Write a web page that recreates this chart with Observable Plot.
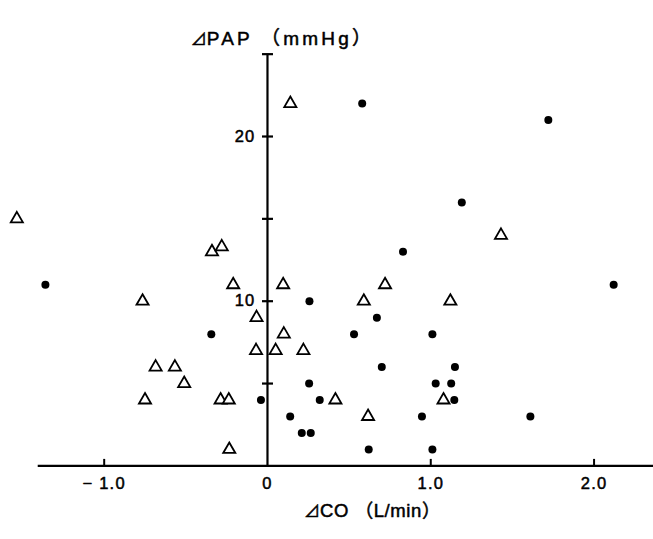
<!DOCTYPE html>
<html>
<head>
<meta charset="utf-8">
<script src="https://cdn.jsdelivr.net/npm/d3@7"></script>
<script src="https://cdn.jsdelivr.net/npm/@observablehq/plot@0.6"></script>
<style>
  body { margin: 0; background: #fff; }
</style>
</head>
<body>
<div id="chart"></div>
<script>
// Open triangles: ΔCO (L/min) and ΔPAP (mmHg)
const triCO  = [-1.535, -0.765, -0.75, 0.14, -0.34, -0.28, 1.43, -0.21, 0.096, -0.067, 0.10, -0.07, 0.05, 0.22, -0.685, -0.567, -0.51, -0.287, -0.237, -0.234, 0.72, 0.59, 1.12, 0.416, 1.078, 0.616];
const triPAP = [15, 10, 4, 22, 13, 13.3, 14, 11, 11, 9, 8, 7, 7, 7, 6, 6, 5, 4, 4, 1, 11, 10, 10, 4, 4, 3];
// Filled circles
const dotCO  = [0.58, 1.72, 1.19, 0.83, -1.36, 0.257, -0.344, 0.255, -0.04, 0.32, 0.139, 0.21, 0.265, 2.12, 0.67, 0.53, 1.01, 0.70, 1.148, 1.03, 1.125, 1.144, 0.946, 1.61, 0.62, 1.01];
const dotPAP = [22, 21, 16, 13, 11, 10, 8, 5, 4, 4, 3, 2, 2, 11, 9, 8, 8, 6, 6, 5, 5, 4, 3, 3, 1, 1];

const xTickValues = [-1, 0, 1, 2];
const xTickLabels = ["− 1.0", "0", "1.0", "2.0"];
const xTickMarks  = [-1, 1, 2];
const yTickMarks  = [5, 10, 15, 20, 25];
const yTickValues = [10, 20];
const yTickLabels = ["10", "20"];
const xTitle = "⊿CO （L/min）";
const yTitle = "⊿PAP （mmHg）";

const triangles = triCO.map((x, i) => ({x, y: triPAP[i]}));
const dots = dotCO.map((x, i) => ({x, y: dotPAP[i]}));

const hTick = {draw(ctx) { ctx.moveTo(-5.5, 0); ctx.lineTo(5.5, 0); }};
const vTick = {draw(ctx) { ctx.moveTo(0, 0); ctx.lineTo(0, -7); }};

const textStyle = {fill: "#000", stroke: "#000", strokeWidth: 0.5};

const chart = Plot.plot({
  width: 653,
  height: 539,
  marginTop: 0, marginRight: 0, marginBottom: 0, marginLeft: 0,
  x: {domain: [-1.635, 2.364], axis: null},
  y: {domain: [-4.469, 28.258], axis: null},
  style: {fontFamily: "'Liberation Sans', Arial, 'DejaVu Sans', 'Noto Sans CJK JP', sans-serif", background: "#fff", color: "#000"},
  marks: [
    Plot.ruleY([0], {x1: -1.404, x2: 2.364, stroke: "#000", strokeWidth: 2.2}),
    Plot.ruleX([0], {y1: 0, y2: 25, stroke: "#000", strokeWidth: 2.2}),
    Plot.dot(yTickMarks, {x: 0, y: d => d, symbol: hTick, r: 5, stroke: "#000", fill: "none", strokeWidth: 2.2}),
    Plot.dot(xTickMarks, {x: d => d, y: 0, symbol: vTick, r: 5, stroke: "#000", fill: "none", strokeWidth: 2}),
    Plot.text(xTickValues, {x: d => d, y: 0, text: (d, i) => xTickLabels[i], dy: 18, fontSize: 16.5, ...textStyle}),
    Plot.text(yTickValues, {x: 0, y: d => d, text: (d, i) => yTickLabels[i], dx: -12, textAnchor: "end", fontSize: 16.5, ...textStyle}),
    Plot.dot(triangles, {x: "x", y: "y", symbol: "triangle", r: 4.5, stroke: "#000", fill: "#fff", strokeWidth: 1.8}),
    Plot.dot(dots, {x: "x", y: "y", r: 4, fill: "#000", stroke: "none"}),
    Plot.text([yTitle], {frameAnchor: "top-left", textAnchor: "middle", dx: 282, dy: 31, text: d => d, fontSize: 19, ...textStyle}),
    Plot.text([xTitle], {frameAnchor: "bottom-left", textAnchor: "middle", dx: 372, dy: -23, text: d => d, fontSize: 18.5, ...textStyle})
  ]
});

const svg = d3.select(chart);
svg.selectAll("text").each(function() {
  const t = d3.select(this);
  const s = this.textContent;
  if (xTickLabels.includes(s) || yTickLabels.includes(s)) {
    t.attr("letter-spacing", 1.2);
  } else if (s === xTitle || s === yTitle) {
    // delta sign in its own font (tspan, still real text); the y title is letter-spaced
    t.text(null);
    t.append("tspan").attr("font-family", "'Noto Sans CJK JP', 'DejaVu Sans', sans-serif").attr("font-size", 16).text("⊿");
    t.append("tspan").attr("letter-spacing", s === yTitle ? 3.2 : 0.6).text(s.slice(1));
  }
});
document.getElementById("chart").appendChild(chart);
</script>
</body>
</html>
